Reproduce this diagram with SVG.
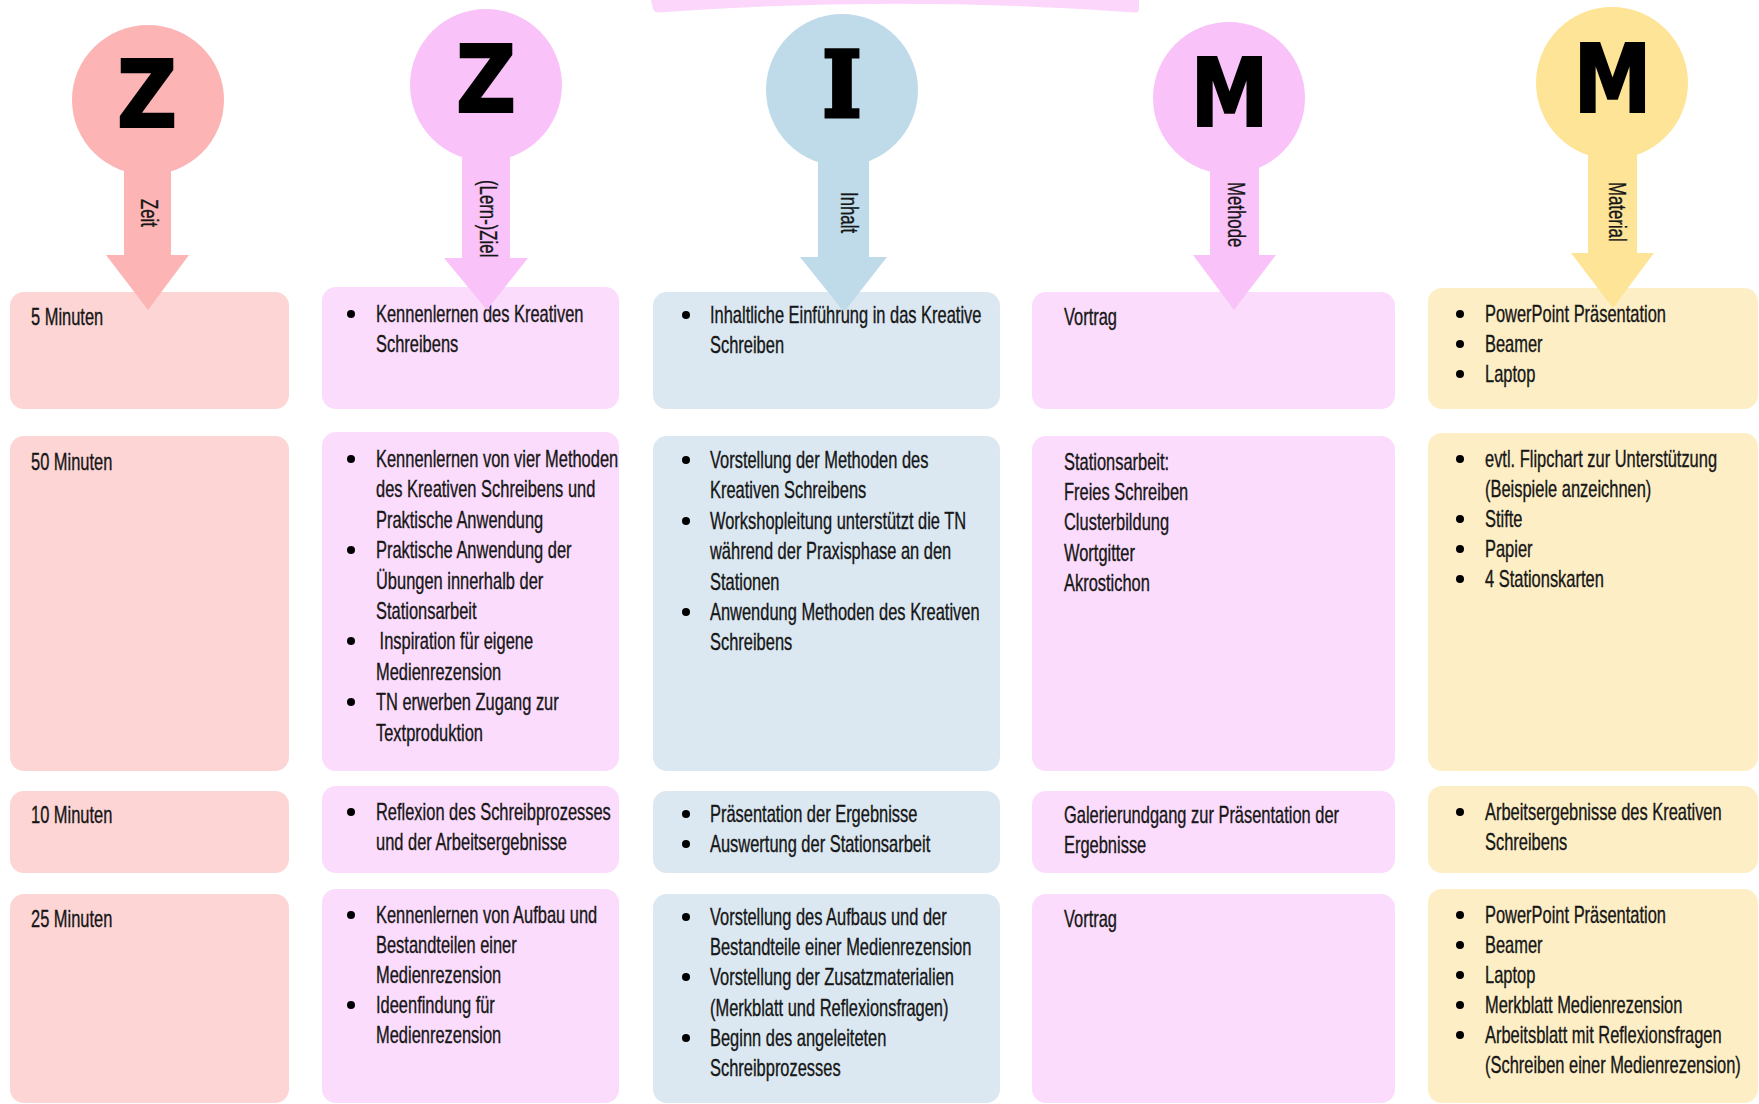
<svg xmlns="http://www.w3.org/2000/svg" width="1759" height="1104" viewBox="0 0 1759 1104">
  <style>
    .tx { font-family: "Liberation Sans", Arial, sans-serif; font-size: 23px; fill: #161616; stroke: #161616; stroke-width: 0.35; }
    .big { font-family: "DejaVu Sans", "Liberation Sans", sans-serif; font-weight: bold; fill: #000; stroke: #000; stroke-width: 2; text-anchor: middle; }
    .slab { font-family: "DejaVu Serif", "Liberation Serif", serif; font-weight: bold; fill: #000; stroke: #000; stroke-width: 5; stroke-linejoin: miter; text-anchor: middle; }
    .dot { fill: #000; }
    .zeit { fill: #FDB4B4; }
    .zeit-box { fill: #FDD5D5; }
    .pink { fill: #F9C3F9; }
    .pink-box { fill: #FCDCFC; }
    .blue { fill: #BFDBEA; }
    .blue-box { fill: #DBE8F2; }
    .gold { fill: #FEE496; }
    .gold-box { fill: #FDEEC6; }
  </style>

  <rect width="1759" height="1104" fill="#fff"/>

  <!-- banner edge at the top -->
  <path id="banner" d="M651,0 H1139 V9 Q1139,13 1134,12.5 Q895,-5 658,12.5 Q655,12.5 653,9 Z" fill="#FCD6FB"/>

  <!-- column 1: Zeit -->
  <g id="zeit-5">
    <rect class="zeit-box" x="10" y="292" width="279" height="117" rx="14"/>
    <g transform="translate(31,0) scale(0.715,1)"><text class="tx" x="0" y="325">5 Minuten</text></g>
  </g>
  <g id="zeit-50">
    <rect class="zeit-box" x="10" y="436" width="279" height="335" rx="14"/>
    <g transform="translate(31,0) scale(0.715,1)"><text class="tx" x="0" y="470">50 Minuten</text></g>
  </g>
  <g id="zeit-10">
    <rect class="zeit-box" x="10" y="791" width="279" height="82" rx="14"/>
    <g transform="translate(31,0) scale(0.715,1)"><text class="tx" x="0" y="823">10 Minuten</text></g>
  </g>
  <g id="zeit-25">
    <rect class="zeit-box" x="10" y="894" width="279" height="209" rx="14"/>
    <g transform="translate(31,0) scale(0.715,1)"><text class="tx" x="0" y="927">25 Minuten</text></g>
  </g>

  <!-- column 2: (Lern-)Ziel -->
  <g id="ziel-1">
    <rect class="pink-box" x="322" y="287" width="297" height="122" rx="14"/>
    <circle class="dot" cx="351" cy="314" r="4"/>
    <g transform="translate(376,0) scale(0.715,1)">
      <text class="tx"><tspan x="0" y="322">Kennenlernen des Kreativen</tspan><tspan x="0" y="352">Schreibens</tspan></text>
    </g>
  </g>
  <g id="ziel-2">
    <rect class="pink-box" x="322" y="432" width="297" height="339" rx="14"/>
    <circle class="dot" cx="351" cy="459" r="4"/>
    <circle class="dot" cx="351" cy="550" r="4"/>
    <circle class="dot" cx="351" cy="641" r="4"/>
    <circle class="dot" cx="351" cy="702" r="4"/>
    <g transform="translate(376,0) scale(0.715,1)">
      <text class="tx">
        <tspan x="0" y="467">Kennenlernen von vier Methoden</tspan>
        <tspan x="0" y="497">des Kreativen Schreibens und</tspan>
        <tspan x="0" y="528">Praktische Anwendung</tspan>
        <tspan x="0" y="558">Praktische Anwendung der</tspan>
        <tspan x="0" y="589">Übungen innerhalb der</tspan>
        <tspan x="0" y="619">Stationsarbeit</tspan>
        <tspan x="5" y="649">Inspiration für eigene</tspan>
        <tspan x="0" y="680">Medienrezension</tspan>
        <tspan x="0" y="710">TN erwerben Zugang zur</tspan>
        <tspan x="0" y="741">Textproduktion</tspan>
      </text>
    </g>
  </g>
  <g id="ziel-3">
    <rect class="pink-box" x="322" y="786" width="297" height="87" rx="14"/>
    <circle class="dot" cx="351" cy="812" r="4"/>
    <g transform="translate(376,0) scale(0.715,1)">
      <text class="tx"><tspan x="0" y="820">Reflexion des Schreibprozesses</tspan><tspan x="0" y="850">und der Arbeitsergebnisse</tspan></text>
    </g>
  </g>
  <g id="ziel-4">
    <rect class="pink-box" x="322" y="889" width="297" height="214" rx="14"/>
    <circle class="dot" cx="351" cy="915" r="4"/>
    <circle class="dot" cx="351" cy="1005" r="4"/>
    <g transform="translate(376,0) scale(0.715,1)">
      <text class="tx">
        <tspan x="0" y="923">Kennenlernen von Aufbau und</tspan>
        <tspan x="0" y="953">Bestandteilen einer</tspan>
        <tspan x="0" y="983">Medienrezension</tspan>
        <tspan x="0" y="1013">Ideenfindung für</tspan>
        <tspan x="0" y="1043">Medienrezension</tspan>
      </text>
    </g>
  </g>

  <!-- column 3: Inhalt -->
  <g id="inhalt-1">
    <rect class="blue-box" x="653" y="292" width="347" height="117" rx="14"/>
    <circle class="dot" cx="686" cy="315" r="4"/>
    <g transform="translate(710,0) scale(0.715,1)">
      <text class="tx"><tspan x="0" y="323">Inhaltliche Einführung in das Kreative</tspan><tspan x="0" y="353">Schreiben</tspan></text>
    </g>
  </g>
  <g id="inhalt-2">
    <rect class="blue-box" x="653" y="436" width="347" height="335" rx="14"/>
    <circle class="dot" cx="686" cy="460" r="4"/>
    <circle class="dot" cx="686" cy="521" r="4"/>
    <circle class="dot" cx="686" cy="612" r="4"/>
    <g transform="translate(710,0) scale(0.715,1)">
      <text class="tx">
        <tspan x="0" y="468">Vorstellung der Methoden des</tspan>
        <tspan x="0" y="498">Kreativen Schreibens</tspan>
        <tspan x="0" y="529">Workshopleitung unterstützt die TN</tspan>
        <tspan x="0" y="559">während der Praxisphase an den</tspan>
        <tspan x="0" y="590">Stationen</tspan>
        <tspan x="0" y="620">Anwendung Methoden des Kreativen</tspan>
        <tspan x="0" y="650">Schreibens</tspan>
      </text>
    </g>
  </g>
  <g id="inhalt-3">
    <rect class="blue-box" x="653" y="791" width="347" height="82" rx="14"/>
    <circle class="dot" cx="686" cy="814" r="4"/>
    <circle class="dot" cx="686" cy="844" r="4"/>
    <g transform="translate(710,0) scale(0.715,1)">
      <text class="tx"><tspan x="0" y="822">Präsentation der Ergebnisse</tspan><tspan x="0" y="852">Auswertung der Stationsarbeit</tspan></text>
    </g>
  </g>
  <g id="inhalt-4">
    <rect class="blue-box" x="653" y="894" width="347" height="209" rx="14"/>
    <circle class="dot" cx="686" cy="917" r="4"/>
    <circle class="dot" cx="686" cy="977" r="4"/>
    <circle class="dot" cx="686" cy="1038" r="4"/>
    <g transform="translate(710,0) scale(0.715,1)">
      <text class="tx">
        <tspan x="0" y="925">Vorstellung des Aufbaus und der</tspan>
        <tspan x="0" y="955">Bestandteile einer Medienrezension</tspan>
        <tspan x="0" y="985">Vorstellung der Zusatzmaterialien</tspan>
        <tspan x="0" y="1016">(Merkblatt und Reflexionsfragen)</tspan>
        <tspan x="0" y="1046">Beginn des angeleiteten</tspan>
        <tspan x="0" y="1076">Schreibprozesses</tspan>
      </text>
    </g>
  </g>

  <!-- column 4: Methode -->
  <g id="methode-1">
    <rect class="pink-box" x="1032" y="292" width="363" height="117" rx="14"/>
    <g transform="translate(1064,0) scale(0.715,1)"><text class="tx" x="0" y="325">Vortrag</text></g>
  </g>
  <g id="methode-2">
    <rect class="pink-box" x="1032" y="436" width="363" height="335" rx="14"/>
    <g transform="translate(1064,0) scale(0.715,1)">
      <text class="tx">
        <tspan x="0" y="470">Stationsarbeit:</tspan>
        <tspan x="0" y="500">Freies Schreiben</tspan>
        <tspan x="0" y="530">Clusterbildung</tspan>
        <tspan x="0" y="561">Wortgitter</tspan>
        <tspan x="0" y="591">Akrostichon</tspan>
      </text>
    </g>
  </g>
  <g id="methode-3">
    <rect class="pink-box" x="1032" y="791" width="363" height="82" rx="14"/>
    <g transform="translate(1064,0) scale(0.715,1)">
      <text class="tx"><tspan x="0" y="823">Galerierundgang zur Präsentation der</tspan><tspan x="0" y="853">Ergebnisse</tspan></text>
    </g>
  </g>
  <g id="methode-4">
    <rect class="pink-box" x="1032" y="894" width="363" height="209" rx="14"/>
    <g transform="translate(1064,0) scale(0.715,1)"><text class="tx" x="0" y="927">Vortrag</text></g>
  </g>

  <!-- column 5: Material -->
  <g id="material-1">
    <rect class="gold-box" x="1428" y="288" width="330" height="121" rx="14"/>
    <circle class="dot" cx="1460" cy="314" r="4"/>
    <circle class="dot" cx="1460" cy="344" r="4"/>
    <circle class="dot" cx="1460" cy="374" r="4"/>
    <g transform="translate(1485,0) scale(0.715,1)">
      <text class="tx"><tspan x="0" y="322">PowerPoint Präsentation</tspan><tspan x="0" y="352">Beamer</tspan><tspan x="0" y="382">Laptop</tspan></text>
    </g>
  </g>
  <g id="material-2">
    <rect class="gold-box" x="1428" y="433" width="330" height="338" rx="14"/>
    <circle class="dot" cx="1460" cy="459" r="4"/>
    <circle class="dot" cx="1460" cy="519" r="4"/>
    <circle class="dot" cx="1460" cy="549" r="4"/>
    <circle class="dot" cx="1460" cy="579" r="4"/>
    <g transform="translate(1485,0) scale(0.715,1)">
      <text class="tx">
        <tspan x="0" y="467">evtl. Flipchart zur Unterstützung</tspan>
        <tspan x="0" y="497">(Beispiele anzeichnen)</tspan>
        <tspan x="0" y="527">Stifte</tspan>
        <tspan x="0" y="557">Papier</tspan>
        <tspan x="0" y="587">4 Stationskarten</tspan>
      </text>
    </g>
  </g>
  <g id="material-3">
    <rect class="gold-box" x="1428" y="786" width="330" height="87" rx="14"/>
    <circle class="dot" cx="1460" cy="812" r="4"/>
    <g transform="translate(1485,0) scale(0.715,1)">
      <text class="tx"><tspan x="0" y="820">Arbeitsergebnisse des Kreativen</tspan><tspan x="0" y="850">Schreibens</tspan></text>
    </g>
  </g>
  <g id="material-4">
    <rect class="gold-box" x="1428" y="889" width="330" height="214" rx="14"/>
    <circle class="dot" cx="1460" cy="915" r="4"/>
    <circle class="dot" cx="1460" cy="945" r="4"/>
    <circle class="dot" cx="1460" cy="975" r="4"/>
    <circle class="dot" cx="1460" cy="1005" r="4"/>
    <circle class="dot" cx="1460" cy="1035" r="4"/>
    <g transform="translate(1485,0) scale(0.715,1)">
      <text class="tx">
        <tspan x="0" y="923">PowerPoint Präsentation</tspan>
        <tspan x="0" y="953">Beamer</tspan>
        <tspan x="0" y="983">Laptop</tspan>
        <tspan x="0" y="1013">Merkblatt Medienrezension</tspan>
        <tspan x="0" y="1043">Arbeitsblatt mit Reflexionsfragen</tspan>
        <tspan x="0" y="1073">(Schreiben einer Medienrezension)</tspan>
      </text>
    </g>
  </g>

  <!-- block arrows from each letter down into its column, with vertical labels -->
  <g id="connectors">
    <path class="zeit" d="M124,160 H171 V255 H189 L148,310 L106,255 H124 Z"/>
    <path class="pink" d="M462,150 H510 V258 H528 L487,310 L444,258 H462 Z"/>
    <path class="blue" d="M818,155 H869 V257 H887 L844,312 L800,257 H818 Z"/>
    <path class="pink" d="M1210,165 H1259 V255 H1276 L1234,310 L1193,255 H1210 Z"/>
    <path class="gold" d="M1588,150 H1637 V253 H1654 L1613,308 L1571,253 H1588 Z"/>
    <text class="tx" transform="translate(141,199) rotate(90) scale(0.73,1)">Zeit</text>
    <text class="tx" transform="translate(480,180) rotate(90) scale(0.73,1)">(Lern-)Ziel</text>
    <text class="tx" transform="translate(841,192) rotate(90) scale(0.73,1)">Inhalt</text>
    <text class="tx" transform="translate(1228,182) rotate(90) scale(0.73,1)">Methode</text>
    <text class="tx" transform="translate(1609,182) rotate(90) scale(0.73,1)">Material</text>
  </g>

  <!-- header letters Z Z I M M -->
  <g id="head-zeit">
    <ellipse class="zeit" cx="148" cy="100" rx="76" ry="75"/>
    <text class="big" font-size="92" transform="translate(147,127) scale(0.9,1)">Z</text>
  </g>
  <g id="head-ziel">
    <ellipse class="pink" cx="486" cy="85" rx="76" ry="76"/>
    <text class="big" font-size="92" transform="translate(486,112) scale(0.9,1)">Z</text>
  </g>
  <g id="head-inhalt">
    <ellipse class="blue" cx="842" cy="90" rx="76" ry="76"/>
    <text class="slab" font-size="90" transform="translate(842,116) scale(0.9,1)">I</text>
  </g>
  <g id="head-methode">
    <ellipse class="pink" cx="1229" cy="98" rx="76" ry="76"/>
    <text class="big" font-size="94" transform="translate(1229.5,126) scale(0.83,1)">M</text>
  </g>
  <g id="head-material">
    <ellipse class="gold" cx="1612" cy="83" rx="76" ry="76"/>
    <text class="big" font-size="94" transform="translate(1612.5,112) scale(0.83,1)">M</text>
  </g>
</svg>
